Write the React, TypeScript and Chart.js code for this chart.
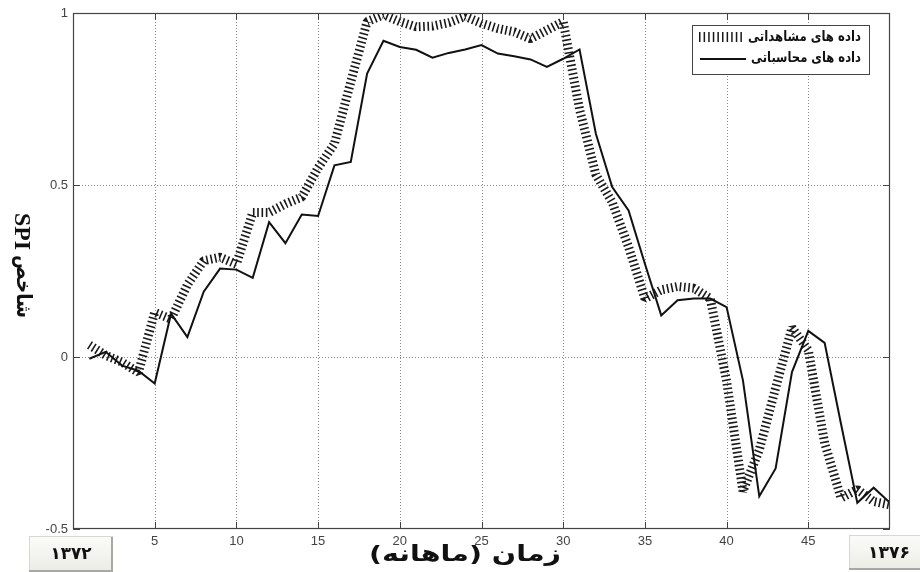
import React, { useEffect, useRef } from 'react';
import { Chart, registerables } from 'chart.js';

Chart.register(...registerables);

// ---- data ----
const months = [
  1, 2, 3, 4, 5, 6, 7, 8, 9, 10,
  11, 12, 13, 14, 15, 16, 17, 18, 19, 20,
  21, 22, 23, 24, 25, 26, 27, 28, 29, 30,
  31, 32, 33, 34, 35, 36, 37, 38, 39, 40,
  41, 42, 43, 44, 45, 46, 47, 48, 49, 50,
];

const observedSPI = [
  0.035, 0.005, -0.015, -0.045, 0.13, 0.11, 0.21, 0.28, 0.29, 0.27,
  0.42, 0.42, 0.445, 0.465, 0.55, 0.62, 0.8, 0.975, 0.995, 0.975,
  0.96, 0.962, 0.972, 0.99, 0.97, 0.955, 0.945, 0.925, 0.95, 0.975,
  0.72, 0.53, 0.45, 0.32, 0.17, 0.195, 0.205, 0.2, 0.17, -0.07,
  -0.39, -0.27, -0.09, 0.085, 0.02, -0.25, -0.41, -0.385, -0.42, -0.43,
];

const computedSPI = [
  -0.005, 0.015, -0.025, -0.04, -0.077, 0.126, 0.058, 0.19, 0.257, 0.254,
  0.23, 0.392, 0.331, 0.414, 0.41, 0.557, 0.567, 0.824, 0.919, 0.901,
  0.893, 0.87, 0.884, 0.894, 0.907, 0.882, 0.874, 0.865, 0.843, 0.867,
  0.894, 0.649, 0.494, 0.426, 0.271, 0.121, 0.165, 0.17, 0.17, 0.145,
  -0.068, -0.405, -0.324, -0.044, 0.076, 0.041, -0.194, -0.424, -0.38, -0.424,
];

const seriesLabels = ['داده های مشاهداتی', 'داده های محاسباتی'];
const xTickValues = [5, 10, 15, 20, 25, 30, 35, 40, 45];
const yTickValues = [-0.5, 0, 0.5, 1];
const xTitle = 'زمان (ماهانه)';
const yTitleLatin = 'SPI';
const yTitleArabic = 'شاخص';
const startYear = '۱۳۷۲';
const endYear = '۱۳۷۶';

const HATCH_WIDTH = 9;
const HATCH_DASH = [1.6, 2.7];

// draw text horizontally fitted to a target width (anchor per ctx.textAlign)
function fitText(ctx: CanvasRenderingContext2D, text: string, x: number, y: number, width: number) {
  const m = ctx.measureText(text).width || 1;
  const s = width / m;
  ctx.save();
  ctx.translate(x, y);
  ctx.scale(s, 1);
  ctx.fillText(text, 0, 0);
  ctx.restore();
}

function drawYearBox(ctx: CanvasRenderingContext2D, x: number, y: number, w: number, h: number, text: string, tx: number, tw: number) {
  ctx.save();
  const g = ctx.createLinearGradient(0, y, 0, y + h);
  g.addColorStop(0, '#fbfbf9');
  g.addColorStop(1, '#ecece6');
  ctx.fillStyle = g;
  ctx.fillRect(x, y, w, h);
  ctx.strokeStyle = '#d8d8d2';
  ctx.lineWidth = 1;
  ctx.strokeRect(x + 0.5, y + 0.5, w - 1, h - 1);
  ctx.strokeStyle = '#a8a8a4';
  ctx.lineWidth = 2;
  ctx.beginPath();
  ctx.moveTo(x + w - 1, y + 1);
  ctx.lineTo(x + w - 1, y + h - 1);
  ctx.lineTo(x, y + h - 1);
  ctx.stroke();
  ctx.fillStyle = '#111';
  ctx.font = 'bold 17px "DejaVu Sans"';
  ctx.textAlign = 'center';
  ctx.textBaseline = 'middle';
  ctx.direction = 'rtl';
  fitText(ctx, text, tx, y + h / 2 + 1, tw);
  ctx.restore();
}

const decorPlugin = {
  id: 'decor',
  beforeDatasetsDraw(chart: any) {
    const { ctx, chartArea: a, scales } = chart;
    const x = scales.x;
    const y = scales.y;
    ctx.save();
    ctx.strokeStyle = '#8a8a8a';
    ctx.lineWidth = 1;
    ctx.setLineDash([1, 2]);
    xTickValues.forEach((v) => {
      const px = Math.round(x.getPixelForValue(v)) + 0.5;
      ctx.beginPath();
      ctx.moveTo(px, a.top);
      ctx.lineTo(px, a.bottom);
      ctx.stroke();
    });
    yTickValues
      .filter((v) => v > y.min && v < y.max)
      .forEach((v) => {
        const py = Math.round(y.getPixelForValue(v)) + 0.5;
        ctx.beginPath();
        ctx.moveTo(a.left, py);
        ctx.lineTo(a.right, py);
        ctx.stroke();
      });
    ctx.restore();
  },
  afterDatasetsDraw(chart: any) {
    const { ctx, chartArea: a, scales } = chart;
    const x = scales.x;
    const y = scales.y;
    const tl = 7;
    ctx.save();
    ctx.strokeStyle = '#444';
    ctx.lineWidth = 1;
    ctx.setLineDash([]);
    xTickValues.forEach((v) => {
      const px = Math.round(x.getPixelForValue(v)) + 0.5;
      ctx.beginPath();
      ctx.moveTo(px, a.bottom);
      ctx.lineTo(px, a.bottom - tl);
      ctx.moveTo(px, a.top);
      ctx.lineTo(px, a.top + tl);
      ctx.stroke();
    });
    yTickValues.forEach((v) => {
      const py = Math.round(y.getPixelForValue(v)) + 0.5;
      ctx.beginPath();
      ctx.moveTo(a.left, py);
      ctx.lineTo(a.left + tl, py);
      ctx.moveTo(a.right, py);
      ctx.lineTo(a.right - tl, py);
      ctx.stroke();
    });
    ctx.lineWidth = 1.2;
    ctx.strokeRect(Math.round(a.left) + 0.5, Math.round(a.top) + 0.5, Math.round(a.right - a.left) - 1, Math.round(a.bottom - a.top) - 1);
    ctx.restore();
  },
  afterDraw(chart: any) {
    const { ctx } = chart;
    ctx.save();
    // legend
    const lx = 692, ly = 25, lw = 177, lh = 49;
    ctx.fillStyle = '#fff';
    ctx.fillRect(lx, ly, lw, lh);
    ctx.strokeStyle = '#444';
    ctx.lineWidth = 1;
    ctx.strokeRect(lx + 0.5, ly + 0.5, lw, lh);
    ctx.font = 'bold 14px "DejaVu Sans"';
    ctx.fillStyle = '#111';
    ctx.textAlign = 'right';
    ctx.textBaseline = 'middle';
    ctx.direction = 'rtl';
    fitText(ctx, seriesLabels[0], 861, 37, 113);
    fitText(ctx, seriesLabels[1], 861, 58, 110);
    // samples
    ctx.strokeStyle = '#1a1a1a';
    ctx.lineCap = 'butt';
    ctx.lineWidth = 10;
    ctx.setLineDash([1.5, 3.1]);
    ctx.beginPath();
    ctx.moveTo(699, 37);
    ctx.lineTo(742, 37);
    ctx.stroke();
    ctx.setLineDash([]);
    ctx.lineWidth = 2;
    ctx.strokeStyle = '#111';
    ctx.beginPath();
    ctx.moveTo(700, 59);
    ctx.lineTo(746, 59);
    ctx.stroke();

    // x title
    ctx.fillStyle = '#111';
    ctx.font = 'bold 22px "DejaVu Sans"';
    ctx.textAlign = 'center';
    ctx.textBaseline = 'middle';
    ctx.direction = 'rtl';
    fitText(ctx, xTitle, 465, 555, 192);

    // y title rotated clockwise: Latin part on top, Arabic part below
    ctx.save();
    ctx.translate(21, 0);
    ctx.rotate(Math.PI / 2);
    ctx.textBaseline = 'middle';
    ctx.textAlign = 'left';
    ctx.direction = 'ltr';
    ctx.font = 'bold 24px "Liberation Serif"';
    fitText(ctx, yTitleLatin, 213, 0, 37);
    ctx.direction = 'rtl';
    ctx.textAlign = 'left';
    ctx.font = 'bold 21px "DejaVu Sans"';
    fitText(ctx, yTitleArabic, 255, -1, 63);
    ctx.restore();

    ctx.restore();

    drawYearBox(ctx, 29, 536, 84, 36, startYear, 71, 41);
    drawYearBox(ctx, 849, 535, 75, 35, endYear, 889, 42);
  },
};

export default function App() {
  const canvasRef = useRef<HTMLCanvasElement | null>(null);

  useEffect(() => {
    const canvas = canvasRef.current;
    if (!canvas) return;
    const computedData = months.map((m, i) => ({ x: m, y: computedSPI[i] }));
    const observedData = months.map((m, i) => ({ x: m, y: observedSPI[i] }));
    const tickFont = { family: '"Liberation Sans", Arial, sans-serif', size: 13 };
    const chart = new Chart(canvas, {
      type: 'line',
      data: {
        datasets: [
          {
            label: seriesLabels[1],
            data: computedData,
            borderColor: '#111',
            borderWidth: 2,
            pointRadius: 0,
            tension: 0,
            fill: false,
            order: 1,
            clip: 0,
            borderJoinStyle: 'miter',
          },
          {
            label: seriesLabels[0],
            data: observedData,
            borderColor: '#1a1a1a',
            borderWidth: HATCH_WIDTH,
            borderDash: HATCH_DASH,
            borderCapStyle: 'butt',
            borderJoinStyle: 'bevel',
            pointRadius: 0,
            tension: 0,
            fill: false,
            order: 2,
            clip: 0,
          },
        ],
      } as any,
      options: {
        responsive: false,
        animation: false,
        devicePixelRatio: 1,
        layout: { padding: { left: 0, right: 30, top: 13, bottom: 0 } },
        plugins: {
          legend: { display: false },
          tooltip: { enabled: false },
          title: { display: false },
        },
        scales: {
          x: {
            type: 'linear',
            min: 0,
            max: 50,
            afterBuildTicks: (s: any) => {
              s.ticks = xTickValues.map((v) => ({ value: v }));
            },
            ticks: {
              autoSkip: false,
              maxRotation: 0,
              padding: 5,
              color: '#444',
              font: tickFont,
              callback: (v: any) => String(v),
            },
            grid: { display: false, drawTicks: false },
            border: { display: false },
            afterFit: (s: any) => {
              s.height = 43;
            },
          },
          y: {
            type: 'linear',
            min: -0.5,
            max: 1,
            afterBuildTicks: (s: any) => {
              s.ticks = yTickValues.map((v) => ({ value: v }));
            },
            ticks: {
              autoSkip: false,
              padding: 5,
              color: '#444',
              font: tickFont,
              callback: (v: any) => String(v),
            },
            grid: { display: false, drawTicks: false },
            border: { display: false },
            afterFit: (s: any) => {
              s.width = 73;
            },
          },
        },
      } as any,
      plugins: [decorPlugin],
    });
    return () => chart.destroy();
  }, []);

  return (
    <div style={{ position: 'fixed', left: 0, top: 0, width: 920, height: 572, background: '#fff' }}>
      <canvas ref={canvasRef} width={920} height={572} style={{ width: 920, height: 572, display: 'block' }} />
    </div>
  );
}
